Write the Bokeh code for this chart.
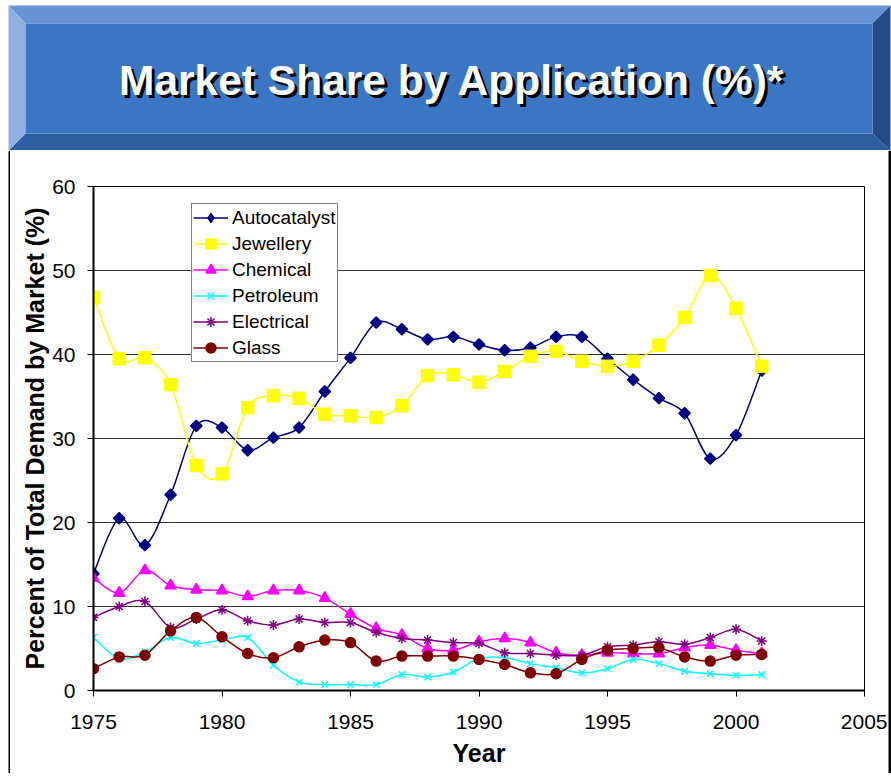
import numpy as np
from bokeh.plotting import figure
from bokeh.models import (Range1d, Legend, LegendItem, FixedTicker, Label, ColumnDataSource)
from bokeh.layouts import column, row
from bokeh.embed import file_html
from bokeh.resources import INLINE

# ---------------- data ----------------
years = list(range(1975, 2002))
autocatalyst = [13.9, 20.5, 17.3, 23.3, 31.5, 31.3, 28.6, 30.1, 31.3, 35.6, 39.6, 43.8, 43.0, 41.8,
                42.1, 41.2, 40.5, 40.8, 42.1, 42.1, 39.5, 37.0, 34.8, 33.0, 27.6, 30.4, 38.1]
jewellery = [46.8, 39.5, 39.6, 36.4, 26.8, 25.8, 33.7, 35.1, 34.8, 32.9, 32.7, 32.5, 33.9, 37.5,
             37.6, 36.7, 38.0, 39.8, 40.4, 39.2, 38.6, 39.2, 41.1, 44.4, 49.4, 45.5, 38.6]
chemical = [13.4, 11.6, 14.3, 12.5, 12.0, 11.9, 11.2, 11.9, 11.9, 11.0, 9.1, 7.4, 6.6, 5.0,
            4.8, 5.8, 6.2, 5.7, 4.5, 4.2, 4.5, 4.4, 4.4, 5.1, 5.4, 4.8, 4.4]
petroleum = [6.3, 3.8, 4.6, 6.3, 5.6, 6.0, 6.3, 3.0, 1.0, 0.7, 0.7, 0.7, 1.9, 1.6,
             2.2, 3.8, 3.9, 3.2, 2.7, 2.1, 2.6, 3.7, 3.2, 2.3, 2.0, 1.8, 1.9]
electrical = [8.7, 10.0, 10.6, 7.5, 8.5, 9.6, 8.3, 7.8, 8.5, 8.1, 8.1, 6.9, 6.2, 6.0,
              5.7, 5.6, 4.5, 4.4, 4.2, 4.2, 5.2, 5.4, 5.8, 5.5, 6.3, 7.3, 5.9]
glass = [2.6, 4.0, 4.2, 7.1, 8.7, 6.4, 4.4, 3.9, 5.2, 6.0, 5.7, 3.5, 4.1, 4.1,
         4.1, 3.7, 3.1, 2.1, 2.0, 3.7, 4.8, 5.0, 5.1, 4.0, 3.5, 4.2, 4.3]
series_names = ["Autocatalyst", "Jewellery", "Chemical", "Petroleum", "Electrical", "Glass"]
x_ticks = [1975, 1980, 1985, 1990, 1995, 2000, 2005]
y_ticks = [0, 10, 20, 30, 40, 50, 60]
title_text = "Market Share by Application (%)*"

# ---------------- styles ----------------
styles = {
    "Autocatalyst": dict(color="#000080", marker="square", size=8, angle=np.pi / 4, lw=1.5),
    "Jewellery": dict(color="#FFFF00", marker="square", size=12, angle=0, lw=1.5),
    "Chemical": dict(color="#FF00FF", marker="triangle", size=11, angle=0, lw=1.5),
    "Petroleum": dict(color="#00FFFF", marker="x", size=9, angle=0, lw=1.5),
    "Electrical": dict(color="#800080", marker="asterisk", size=10, angle=0, lw=1.5),
    "Glass": dict(color="#800000", marker="circle", size=10, angle=0, lw=1.5),
}
values = dict(zip(series_names, [autocatalyst, jewellery, chemical, petroleum, electrical, glass]))

FONT = "Liberation Sans"
W = 891
BH = 150       # banner height
CH = 623       # chart panel height
LB, RB, BB = 10, 4, 3   # frame strips (left, right, bottom)
CW = W - LB - RB


def smooth_segments(xs, ys, t=1.0 / 6.0):
    """Bezier control points (Catmull-Rom style smoothing, like Excel's smoothed line)."""
    n = len(xs)
    out = dict(x0=[], y0=[], x1=[], y1=[], cx0=[], cy0=[], cx1=[], cy1=[])
    for i in range(n - 1):
        xp, yp = (xs[i - 1], ys[i - 1]) if i > 0 else (xs[i], ys[i])
        xq, yq = (xs[i + 2], ys[i + 2]) if i + 2 < n else (xs[i + 1], ys[i + 1])
        out["x0"].append(xs[i]); out["y0"].append(ys[i])
        out["x1"].append(xs[i + 1]); out["y1"].append(ys[i + 1])
        out["cx0"].append(xs[i] + (xs[i + 1] - xp) * t)
        out["cy0"].append(ys[i] + (ys[i + 1] - yp) * t)
        out["cx1"].append(xs[i + 1] - (xq - xs[i]) * t)
        out["cy1"].append(ys[i + 1] - (yq - ys[i]) * t)
    return out


def deco_figure(w, h):
    f = figure(width=w, height=h, x_range=Range1d(0, w), y_range=Range1d(0, h),
               toolbar_location=None, output_backend="svg", min_border=0,
               x_axis_location=None, y_axis_location=None)
    f.frame_align = False
    f.grid.visible = False
    f.outline_line_color = None
    f.background_fill_color = "white"
    f.border_fill_color = "white"
    return f


# ---------------- banner ----------------
banner = deco_figure(W, BH)
L, R, T, B = 8, 890, 145, 0
iL, iR, iT, iB = L + 17, R - 18, T - 18, B + 17
banner.patches(xs=[[L, R, iR, iL], [L, R, iR, iL], [L, iL, iL, L], [R, iR, iR, R]],
               ys=[[T, T, iT, iT], [B, B, iB, iB], [T, iT, iB, B], [T, iT, iB, B]],
               fill_color=["#6593D5", "#2E5EA2", "#8FB0E2", "#254B85"], line_color=None)
banner.quad(left=iL, right=iR, top=iT, bottom=iB, fill_color="#3B76C5", line_color=None)
banner.add_layout(Label(x=454.5, y=67, text=title_text, text_color="black", text_align="center",
                        text_baseline="alphabetic", text_font=FONT, text_font_style="bold",
                        text_font_size="42.5px"))
banner.add_layout(Label(x=451.5, y=70, text=title_text, text_color="white", text_align="center",
                        text_baseline="alphabetic", text_font=FONT, text_font_style="bold",
                        text_font_size="42.5px"))

# ---------------- frame strips ----------------
left_strip = deco_figure(LB, CH)
left_strip.quad(left=8, right=10, top=CH, bottom=0, fill_color="black", line_color=None)
right_strip = deco_figure(RB, CH)
right_strip.quad(left=1, right=3.5, top=CH, bottom=0, fill_color="black", line_color=None)
bottom_strip = deco_figure(W, BB)
bottom_strip.quad(left=8, right=890, top=BB, bottom=0, fill_color="black", line_color=None)

# ---------------- chart ----------------
p = figure(width=CW, height=CH, x_range=Range1d(1975, 2005), y_range=Range1d(0, 60),
           toolbar_location=None, output_backend="svg",
           min_border_left=93 - LB, min_border_right=LB + CW - 864, min_border_top=36,
           min_border_bottom=CH - 36 - 504,
           x_axis_label="Year", y_axis_label="Percent of Total Demand by Market (%)")
p.frame_align = False
p.background_fill_color = "white"
p.border_fill_color = "white"
p.outline_line_color = "black"
p.outline_line_width = 1

p.xaxis.ticker = FixedTicker(ticks=x_ticks)
p.yaxis.ticker = FixedTicker(ticks=y_ticks)
p.xgrid.grid_line_color = None
p.ygrid.grid_line_color = "#333333"
p.ygrid.grid_line_width = 1

for ax in (p.xaxis[0], p.yaxis[0]):
    ax.axis_line_color = "black"
    ax.axis_line_width = 2
    ax.major_tick_line_color = "black"
    ax.major_tick_line_width = 1
    ax.major_tick_out = 6
    ax.major_tick_in = 0
    ax.minor_tick_line_color = None
    ax.major_label_text_font = FONT
    ax.major_label_text_font_size = "21px"
    ax.major_label_text_color = "black"
    ax.axis_label_text_font = FONT
    ax.axis_label_text_font_size = "25px"
    ax.axis_label_text_font_style = "bold"
    ax.axis_label_text_color = "black"
p.xaxis.major_label_standoff = 18
p.xaxis.axis_label_standoff = 7
p.yaxis.major_label_standoff = 12
p.yaxis.axis_label_standoff = 0

items = []
for name in series_names:
    st = styles[name]
    vals = values[name]
    src = ColumnDataSource(smooth_segments(years, vals))
    r_line = p.bezier(x0="x0", y0="y0", x1="x1", y1="y1", cx0="cx0", cy0="cy0",
                      cx1="cx1", cy1="cy1", source=src, line_color=st["color"],
                      line_width=st["lw"])
    r_leg = None
    if st["angle"] != 0:
        # small diamond hidden beneath the rotated squares; used for the legend glyph
        r_leg = p.scatter(x=years, y=vals, marker="diamond", size=10,
                          fill_color=st["color"], line_color=st["color"])
    r_pts = p.scatter(x=years, y=vals, marker=st["marker"], size=st["size"], angle=st["angle"],
                      fill_color=st["color"], line_color=st["color"], line_width=1.5)
    items.append(LegendItem(label=name, renderers=[r_line, r_leg if r_leg is not None else r_pts]))

legend = Legend(items=items, location=(98, 328), padding=1, spacing=1, margin=0,
                glyph_height=25, label_height=25, glyph_width=35, label_standoff=4,
                label_text_font=FONT, label_text_font_size="19px", label_text_color="black",
                border_line_color="black", border_line_width=1,
                background_fill_color="white", background_fill_alpha=1.0)
p.add_layout(legend)

layout = column(banner, row(left_strip, p, right_strip, spacing=0), bottom_strip, spacing=0)
open("out.html", "w").write(file_html(layout, INLINE))
